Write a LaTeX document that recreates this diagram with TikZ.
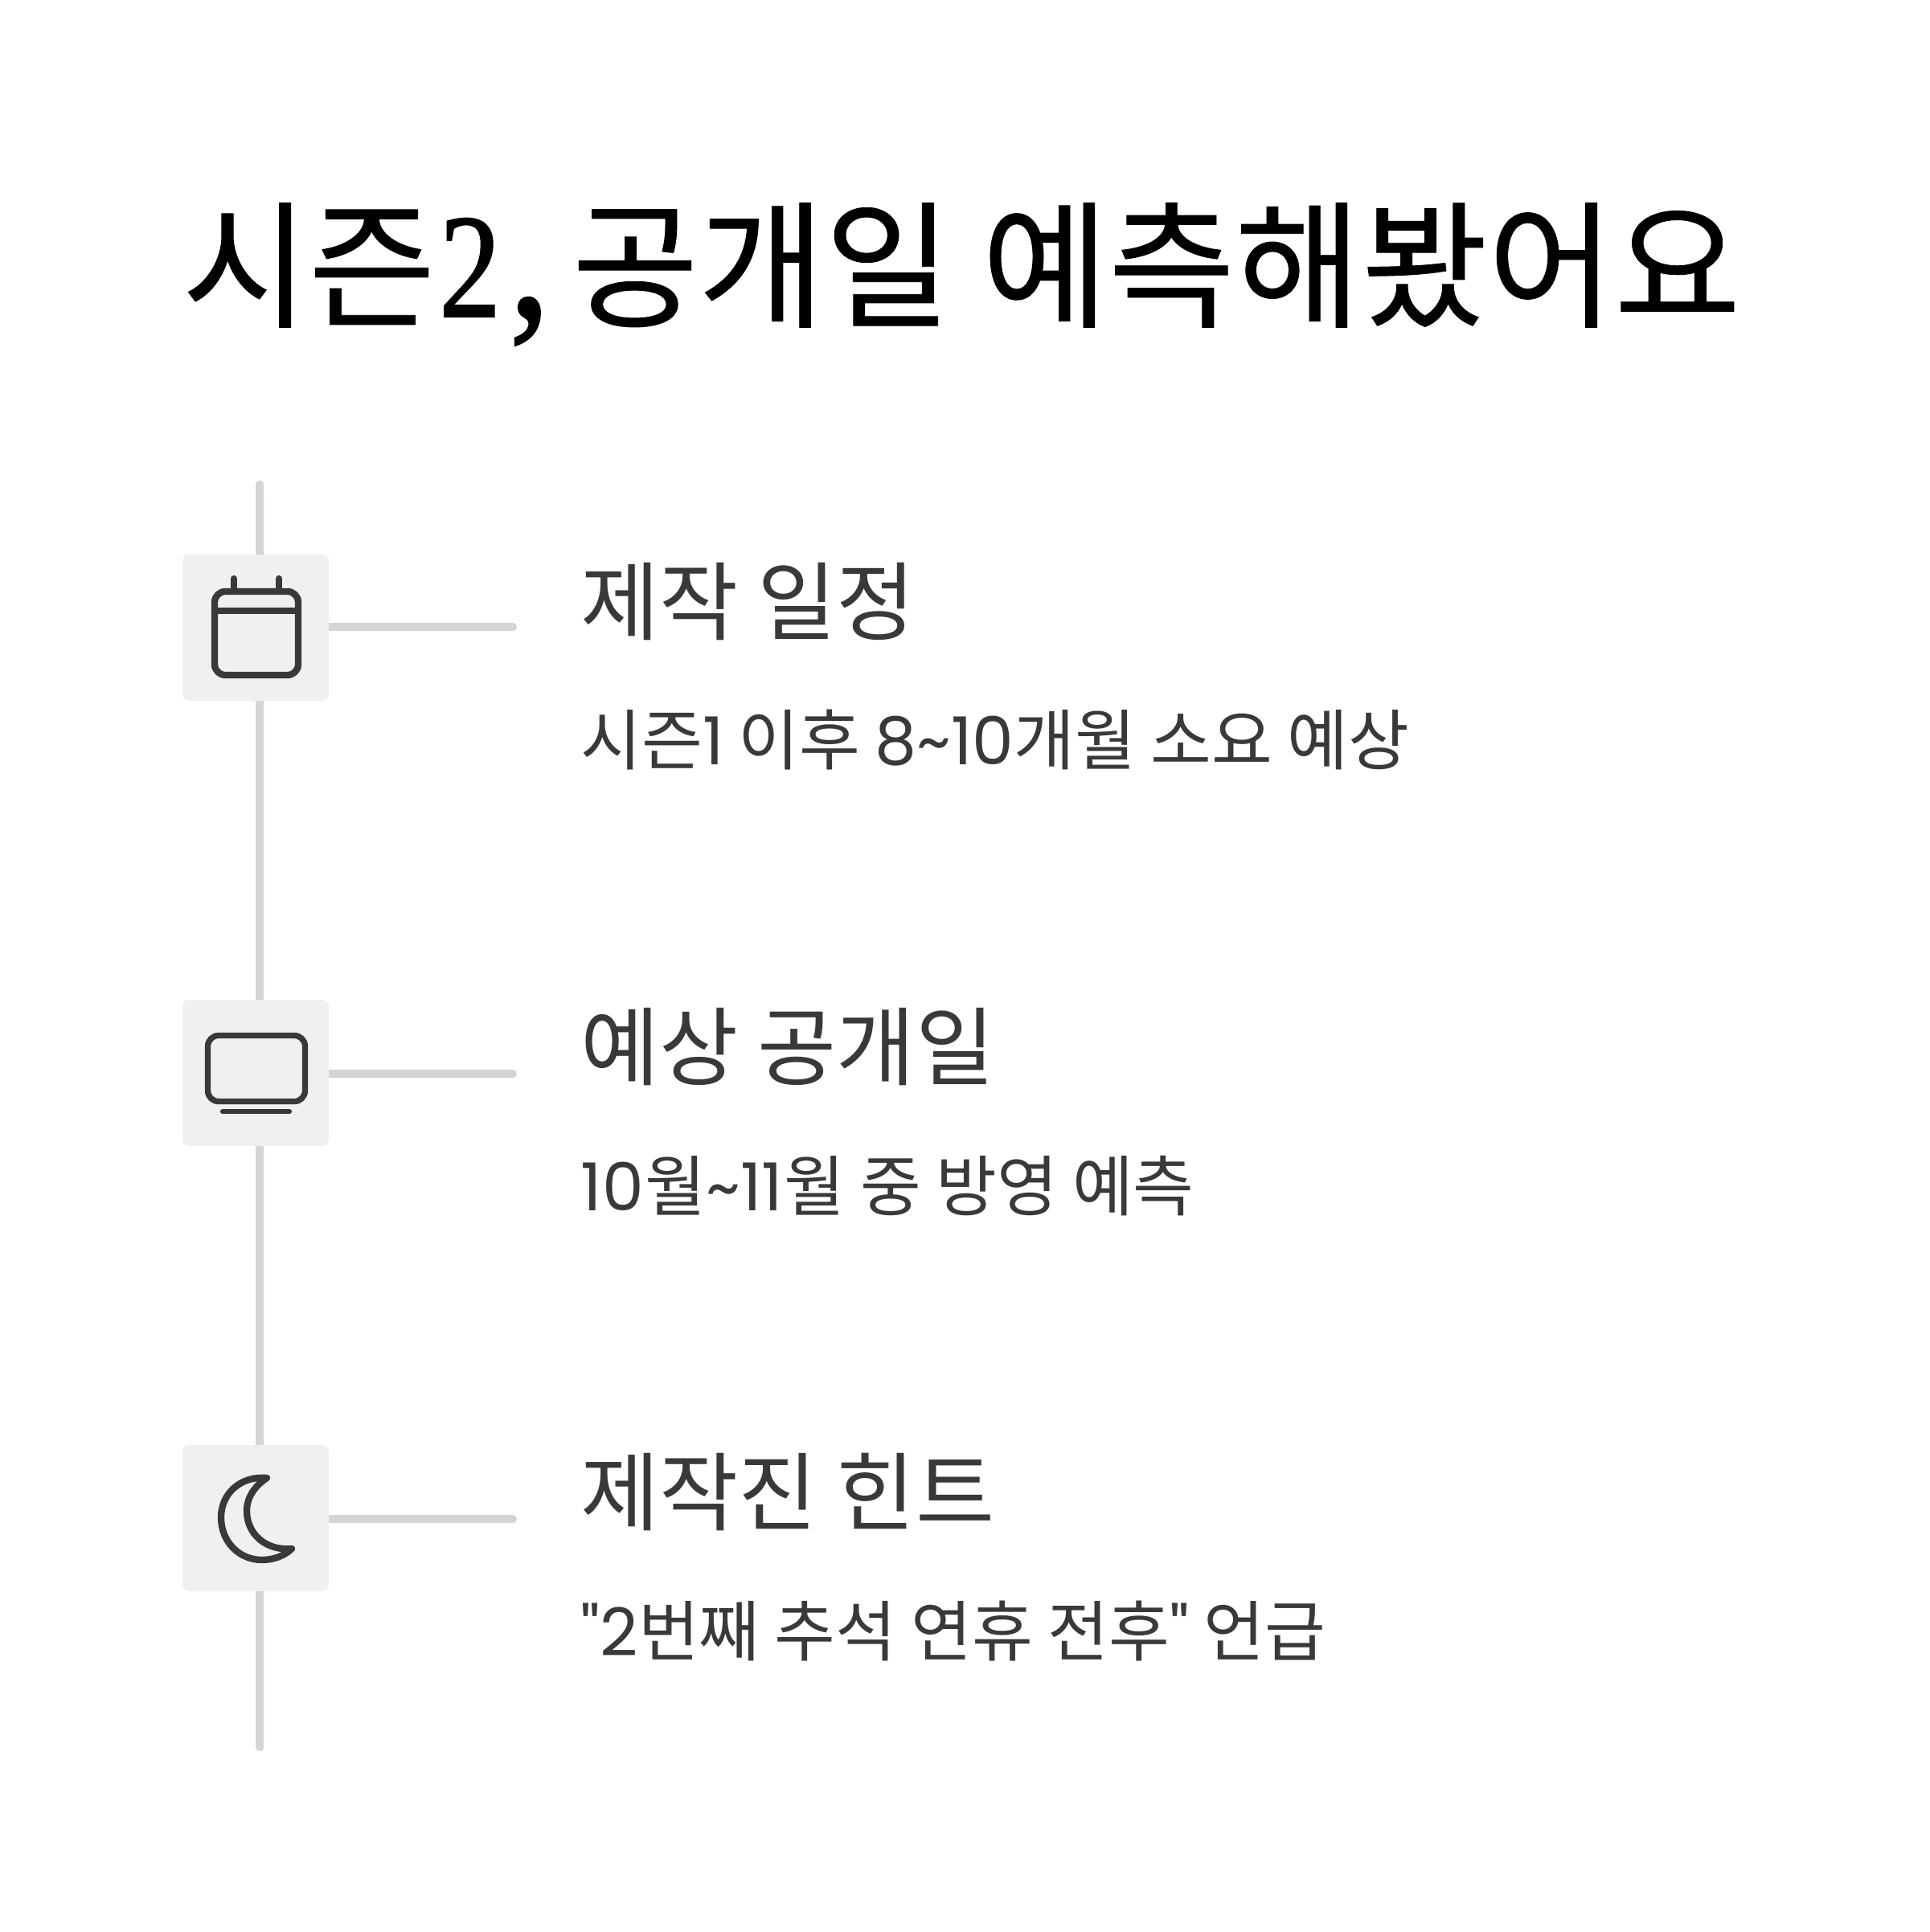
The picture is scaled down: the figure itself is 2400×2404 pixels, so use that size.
\documentclass[tikz,border=0pt]{standalone}
\usepackage{fontspec}
\usepackage{graphicx}
\usetikzlibrary{backgrounds}
\newfontfamily\krfont{Noto Sans CJK KR}
\newfontfamily\krtitle[BoldFont={Noto Sans CJK KR},BoldFeatures={FakeBold=0.5}]{Noto Sans CJK KR}
\newfontfamily\titlelatin[BoldFont={Liberation Serif},BoldFeatures={FakeBold=1.2}]{Liberation Serif}
\newfontfamily\poplatin{Poppins}
\definecolor{linegray}{HTML}{D5D3D3}
\definecolor{boxgray}{HTML}{F2F0EF}
\definecolor{inkgray}{HTML}{3A3938}
\newcommand{\sz}[1]{\fontsize{#1}{#1}\selectfont}
\tikzset{
  guide/.style={draw=linegray,line width=3pt,line cap=round},
  iconbox/.style={fill=boxgray,draw=none,rounded corners=2.4pt,minimum size=54.6pt,inner sep=0pt,outer sep=0pt},
  glyph/.style={draw=inkgray,line width=2.5pt,line cap=round,line join=round},
  headtext/.style={anchor=base west,inner sep=0pt,text=inkgray,font=\krfont\sz{32}},
  subtext/.style={anchor=base west,inner sep=0pt,text=inkgray,font=\krfont\sz{24.7}},
  titletext/.style={anchor=base west,inner sep=0pt,text=black}
}
\begin{document}
\begin{tikzpicture}[x=0.3pt,y=-0.3pt]
\useasboundingbox (0,0) rectangle (2400,2404);
\coordinate (top) at (323,603);
\coordinate (bot) at (323,2174);
\node[iconbox] (b1) at (318,781) {};
\node[iconbox] (b2) at (318,1335) {};
\node[iconbox] (b3) at (318,1889) {};
\coordinate (e1) at (638,780);
\coordinate (e2) at (638,1336);
\coordinate (e3) at (638,1890);
\begin{pgfonlayer}{background}
\fill[white] (0,0) rectangle (2400,2404);
\draw[guide] (top) -- (bot);
\draw[guide] (b1.center |- e1) -- (e1);
\draw[guide] (b2.center |- e2) -- (e2);
\draw[guide] (b3.center |- e3) -- (e3);
\end{pgfonlayer}
% calendar
\draw[glyph,rounded corners=4pt] (267,736) rectangle (371,840);
\draw[glyph] (267,760) -- (371,760);
\draw[glyph] (291,720) -- (291,736);
\draw[glyph] (347,720) -- (347,736);
% screen
\draw[glyph,line width=2.2pt,rounded corners=4pt] (258.5,1288.5) rectangle (379.5,1370.5);
\draw[glyph,line width=1.9pt] (277,1383) -- (360,1383);
% moon
\draw[glyph] (332,1839)
  .. controls (300,1836) and (275,1858) .. (275,1888)
  .. controls (275,1918) and (297,1941) .. (326,1941)
  .. controls (340,1941) and (354,1936) .. (363,1927)
  .. controls (330,1930) and (307,1908) .. (307,1880)
  .. controls (307,1863) and (317,1849) .. (332,1839) -- cycle;
% texts
\node[titletext,font=\krtitle\bfseries\sz{51.3}] (t) at (226,394) {시즌\hspace{1.5pt}{\titlelatin\bfseries\scalebox{0.9}[1.08]{2}\hspace{3pt}\scalebox{1.2}[1.35]{,}}\hspace{-3.4pt} 공개일 예측해봤어요};
\node[headtext] (h1) at (722,788) {제작 일정};
\node[subtext] (s1) at (722,951) {시즌{\poplatin 1} 이후 {\poplatin 8\textasciitilde10}개월 소요 예상};
\node[headtext] (h2) at (722,1342) {예상 공개일};
\node[subtext] (s2) at (722,1506) {{\poplatin 10}\hspace{0.6pt}월{\poplatin\textasciitilde11}\hspace{0.6pt}월 중 방영 예측};
\node[headtext] (h3) at (722,1896) {제작진 힌트};
\node[subtext] (s3) at (722,2060) {{\poplatin "2}번째 추석 연휴 전후{\poplatin "} 언급};
\end{tikzpicture}
\end{document}
